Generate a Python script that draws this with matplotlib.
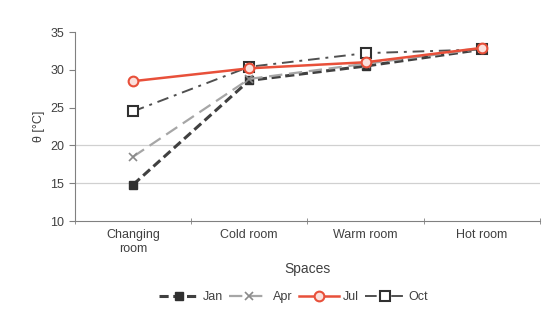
import matplotlib
matplotlib.use("Agg")
import matplotlib.pyplot as plt
import numpy as np

plt.rcParams['font.family'] = ['Liberation Sans', 'DejaVu Sans']

categories = ["Changing\nroom", "Cold room", "Warm room", "Hot room"]
jan = [14.8, 28.6, 30.5, 32.7]
apr = [18.5, 28.8, 30.8, 32.8]
jul = [28.5, 30.2, 31.0, 32.9]
oct_ = [24.5, 30.4, 32.2, 32.7]
yticks = [10, 15, 20, 25, 30, 35]
grid_levels = [15, 20]

fig = plt.figure(figsize=(5.46, 3.2), dpi=100)
ax = fig.add_axes([0.137, 0.309, 0.852, 0.591])

x = np.arange(len(categories))
ax.plot(x, jan, color='#404040', lw=2.2, ls=(0, (3, 1.5)), marker='s', ms=5.5,
        mfc='#303030', mec='#303030', label='Jan', zorder=3)
ax.plot(x, apr, color='#a6a6a6', lw=1.6, ls=(0, (6, 3)), marker='x', ms=6,
        mew=1.2, mec='#8a8a8a', label='Apr', zorder=3)
ax.plot(x, jul, color='#e8503a', lw=1.8, ls='-', marker='o', ms=7,
        mfc='#fbe0dc', mec='#e8503a', mew=1.5, label='Jul', zorder=4)
ax.plot(x, oct_, color='#505050', lw=1.4, ls=(0, (6, 3, 1.5, 3)), marker='s', ms=7,
        mfc='white', mec='#303030', mew=1.5, label='Oct', zorder=3)

ax.set_xlim(-0.5, len(categories) - 0.5)
ax.set_ylim(10, 35)
ax.set_yticks(yticks)
ax.set_xticks(x)
ax.set_xticklabels(categories, fontsize=9, color='#404040')
ax.set_xticks(np.arange(-0.5, len(categories)), minor=True)
ax.tick_params(axis='x', which='major', length=0, pad=6)
ax.tick_params(axis='x', which='minor', length=4, direction='inout', color='#808080')
ax.tick_params(axis='y', labelsize=9, labelcolor='#404040', length=4, color='#808080')
for g in grid_levels:
    ax.axhline(g, color='#d0d0d0', lw=0.9, zorder=0)
for s in ['top', 'right']:
    ax.spines[s].set_visible(False)
for s in ['left', 'bottom']:
    ax.spines[s].set_color('#808080')

ax.set_ylabel("θ [°C]", fontsize=9, color='#404040')
ax.set_xlabel("Spaces", fontsize=10, color='#404040', labelpad=5)

ax.legend(loc='upper center', bbox_to_anchor=(0.47, -0.31), ncol=4, frameon=False,
          fontsize=9, handlelength=3.2, columnspacing=0.5, handletextpad=0.3,
          labelcolor='#404040')

fig.savefig("out.png", dpi=100)
